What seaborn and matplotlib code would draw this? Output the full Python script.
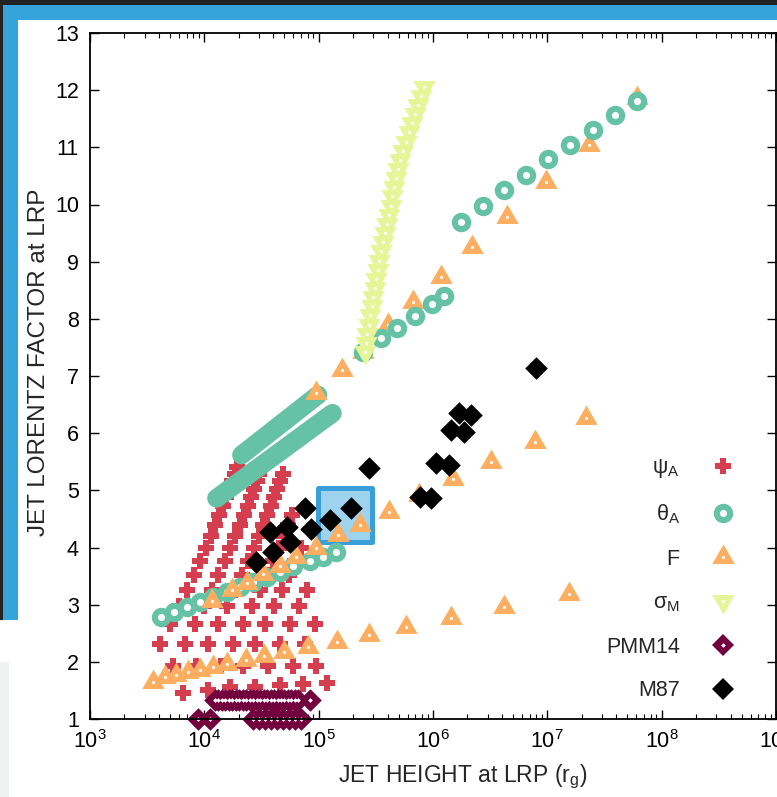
import matplotlib
matplotlib.use("Agg")
import matplotlib.pyplot as plt
import seaborn as sns
import numpy as np
import pandas as pd
from matplotlib.lines import Line2D
from matplotlib.legend_handler import HandlerTuple
from matplotlib.patches import Rectangle
from matplotlib.path import Path
from matplotlib.ticker import FixedLocator, NullFormatter, NullLocator, LogFormatterSciNotation

# ---------------- data ----------------
# psi_A (red crosses), one list per model track
psi_x = [
    [4087, 5027, 6012, 7021, 8072, 9163, 10265, 11373, 12466, 13509, 14506, 15549, 16514, 17540, 18430, 19380],
    [5307, 6729, 8277, 9900, 11558, 13280, 15077, 16900, 18730, 20500, 22240, 23890, 25580, 27200, 28860, 30350, 31910],
    [6490, 8497, 10772, 13253, 15849, 18503, 21260, 24130, 27060, 29980, 32820, 35610, 38230, 40950, 43490, 46190, 48580],
    [10729, 14047, 17810, 21910, 26200, 30590, 35140, 39890, 44740, 49570, 54270, 58880],
    [16700, 21870, 27720, 34100, 40790, 47610, 54710, 62090, 69640],
    [27610, 36150, 45830, 56370, 67440, 78720],
    [45650, 59770, 75760, 93200],
    [72480, 94950],
    [117450],
]
psi_y = [
    [2.313, 2.662, 2.977, 3.257, 3.519, 3.764, 3.992, 4.202, 4.394, 4.569, 4.726, 4.884, 5.024, 5.164, 5.286, 5.409],
    [1.928, 2.313, 2.662, 2.977, 3.257, 3.519, 3.764, 3.992, 4.202, 4.394, 4.569, 4.726, 4.884, 5.024, 5.164, 5.286, 5.409],
    [1.455, 1.928, 2.313, 2.662, 2.977, 3.257, 3.519, 3.764, 3.992, 4.202, 4.394, 4.569, 4.726, 4.884, 5.024, 5.164, 5.286],
    [1.508, 1.928, 2.313, 2.662, 2.977, 3.257, 3.519, 3.764, 3.992, 4.202, 4.394, 4.569],
    [1.56, 1.928, 2.313, 2.662, 2.977, 3.257, 3.519, 3.764, 3.992],
    [1.56, 1.928, 2.313, 2.662, 2.977, 3.257],
    [1.595, 1.928, 2.313, 2.662],
    [1.613, 1.928],
    [1.63],
]

# theta_A (teal open circles)
theta_low_x = [4169, 5415, 7035, 9140, 11986, 15725, 20420, 26790, 35150, 45640, 59880, 83440, 109000, 142800]
theta_low_y = [2.785, 2.878, 2.965, 3.053, 3.135, 3.222, 3.31, 3.397, 3.485, 3.572, 3.668, 3.764, 3.84, 3.927]
theta_up_x = [243800, 352800, 482800, 689000, 976100, 1.26e6, 1.763e6, 2.723e6, 4.21e6, 6.516e6,
              1.02e7, 1.588e7, 2.487e7, 3.926e7, 6.145e7]
theta_up_y = [7.425, 7.66, 7.845, 8.05, 8.254, 8.40, 9.70, 9.979, 10.254, 10.516,
              10.791, 11.041, 11.303, 11.566, 11.816]
# densely sampled theta_A tracks (drawn as thick bands)
theta_band1_x = [12785, 41030, 131800]
theta_band1_y = [4.861, 5.604, 6.348]
theta_band2_x = [21130, 45640, 98600]
theta_band2_y = [5.618, 6.143, 6.668]

# F (orange triangles)
F_x = [3530, 4520, 5640, 7220, 9140, 11940, 15820, 23040, 33080, 49460, 80640, 144500, 273400,
       583400, 1.442e6, 4.21e6, 1.556e7,
       11560, 17290, 23500, 32620, 45920, 63880, 95500, 147500, 228000, 411200, 751600, 1.489e6,
       3.22e6, 7.81e6, 2.178e7,
       95500, 158800, 243800, 402900, 666200, 1.179e6, 2.2e6, 4.446e6, 9.74e6, 2.295e7, 6.145e7]
F_y = [1.653, 1.741, 1.77, 1.828, 1.858, 1.905, 1.963, 2.033, 2.103, 2.167, 2.265, 2.353, 2.47,
       2.615, 2.773, 2.965, 3.182,
       3.056, 3.252, 3.38, 3.537, 3.672, 3.826, 4.0, 4.219, 4.394, 4.627, 4.919, 5.193,
       5.501, 5.851, 6.26,
       6.703, 7.105, 7.425, 7.892, 8.30, 8.737, 9.262, 9.787, 10.399, 11.041, 11.858]

# sigma_M (yellow-green down triangles)
sig_x = [2.52e5, 2.59e5, 2.67e5, 2.75e5, 2.83e5, 2.92e5, 3.00e5, 3.09e5, 3.19e5, 3.28e5,
         3.38e5, 3.52e5, 3.65e5, 3.79e5, 3.94e5, 4.10e5, 4.25e5, 4.41e5, 4.58e5, 4.76e5,
         4.95e5, 5.16e5, 5.48e5, 5.83e5, 6.20e5, 6.60e5, 7.00e5, 7.46e5, 7.92e5, 8.41e5]
sig_y = [7.42, 7.58, 7.74, 7.90, 8.06, 8.22, 8.38, 8.54, 8.70, 8.86,
         9.02, 9.18, 9.34, 9.50, 9.66, 9.82, 9.98, 10.14, 10.30, 10.46,
         10.62, 10.78, 10.94, 11.10, 11.26, 11.42, 11.58, 11.74, 11.90, 12.06]

# PMM14 (dark magenta open diamonds)
pmm_x = [12400, 13300, 14300, 15300, 16400, 17600, 18900, 20200, 21700, 23300, 25000, 26800,
         28700, 30800, 33000, 35400, 38000, 40700, 43700, 46800, 50200, 53800, 57700, 61900,
         66300, 83400,
         8830, 11170, 26500, 30000, 34000, 38500, 43500, 49000, 55500, 62500, 70500]
pmm_y = [1.33] * 26 + [1.0] * 11

# M87 (black filled diamonds)
m87_x = [28570, 39890, 37340, 55800, 52540, 85130, 75450, 124800, 193100, 273400, 762300,
         964500, 1.066e6, 1.374e6, 1.442e6, 1.884e6, 1.680e6, 2.156e6, 7.966e6]
m87_y = [3.752, 3.922, 4.277, 4.102, 4.359, 4.324, 4.686, 4.482, 4.686, 5.386, 4.889,
         4.861, 5.473, 5.444, 6.056, 6.026, 6.348, 6.318, 7.135]

# highlighted region (blue square)
box_x = [1.69e5]
box_y = [4.57]

x_ticks = [1e3, 1e4, 1e5, 1e6, 1e7, 1e8, 1e9]
y_ticks = list(range(1, 14))
labels = ["ψ$_\\mathregular{A}$", "θ$_\\mathregular{A}$", "F", "σ$_\\mathregular{M}$", "PMM14", "M87"]
xlabel = "JET HEIGHT at LRP (r$_\\mathregular{g}$)"
ylabel = "JET LORENTZ FACTOR at LRP"

# ---------------- style ----------------
RED = "#d53e4f"
TEAL = "#66c2a5"
ORANGE = "#fdae61"
YELLOW = "#e6f598"
PURPLE = "#72003f"
BLUE_E = "#3a9fd8"
BLUE_F = "#9ed3ee"

sns.set_theme(style="ticks")
plt.rcParams["font.family"] = ["Liberation Sans", "DejaVu Sans"]
plt.rcParams["mathtext.fontset"] = "custom"
plt.rcParams["mathtext.rm"] = "Liberation Sans"
plt.rcParams["mathtext.it"] = "Liberation Sans:italic"
plt.rcParams["mathtext.default"] = "regular"

W, H = 777, 797
fig = plt.figure(figsize=(W / 100, H / 100), dpi=100)
fig.patch.set_facecolor("white")

# screenshot frame decoration
def frect(x0, y0, x1, y1, color):
    fig.add_artist(Rectangle((x0 / W, 1 - y1 / H), (x1 - x0) / W, (y1 - y0) / H,
                             transform=fig.transFigure, facecolor=color, edgecolor="none", zorder=-5))

frect(0, 0, W, 5, "#232323")
frect(0, 5, W, 20, "#34a4da")
frect(0, 5, 3, 620, "#232323")
frect(3, 5, 18, 620, "#34a4da")
frect(0, 662, 9, H, "#eef0f2")

AX_L, AX_R, AX_T, AX_B = 90, 776, 33, 719
ax = fig.add_axes([AX_L / W, 1 - AX_B / H, (AX_R - AX_L) / W, (AX_B - AX_T) / H])
ax.set_facecolor("white")

# custom triangle markers centred on their centroid
tri_up = Path([(0, 12.67), (-11, -6.33), (11, -6.33), (0, 12.67)], closed=True)
tri_dn = Path([(0, -12.67), (-11, 6.33), (11, 6.33), (0, -12.67)], closed=True)
MS_TRI = 18.6
MS_D = 11.5
MS_P = 11.5

# blue square
sns.scatterplot(x=box_x, y=box_y, marker="s", s=38.5 ** 2, color=BLUE_F, edgecolor=BLUE_E,
                linewidth=3.6, ax=ax, zorder=2.5, legend=False)

# psi_A crosses
for xs, ys in zip(psi_x, psi_y):
    sns.scatterplot(x=xs, y=ys, marker="P", s=MS_P ** 2, color=RED, linewidth=0, ax=ax,
                    zorder=2, legend=False)

# theta_A bands + lower track
for bx, by in [(theta_band1_x, theta_band1_y), (theta_band2_x, theta_band2_y)]:
    sns.lineplot(x=bx, y=by, color=TEAL, linewidth=13.5, solid_capstyle="round", sort=False,
                 estimator=None, ax=ax, zorder=3, legend=False)
sns.scatterplot(x=theta_low_x, y=theta_low_y, marker="o", s=9.6 ** 2, color="white",
                edgecolor=TEAL, linewidth=4.4, ax=ax, zorder=3, legend=False)

# F triangles
sns.scatterplot(x=F_x, y=F_y, marker=tri_up, s=MS_TRI ** 2, color=ORANGE, linewidth=0, ax=ax,
                zorder=4, legend=False)
sns.scatterplot(x=F_x, y=F_y, marker="o", s=2.3 ** 2, color="white", linewidth=0, ax=ax,
                zorder=4.1, legend=False)

# theta_A upper track
sns.scatterplot(x=theta_up_x, y=theta_up_y, marker="o", s=9.6 ** 2, color="white",
                edgecolor=TEAL, linewidth=4.4, ax=ax, zorder=5, legend=False)

# sigma_M
sns.scatterplot(x=sig_x, y=sig_y, marker=tri_dn, s=MS_TRI ** 2, color=YELLOW, linewidth=0, ax=ax,
                zorder=6, legend=False)
sns.scatterplot(x=sig_x, y=sig_y, marker="o", s=2.3 ** 2, color="white", linewidth=0, ax=ax,
                zorder=6.1, legend=False)

# PMM14
sns.scatterplot(x=pmm_x, y=pmm_y, marker="D", s=MS_D ** 2, color=PURPLE, linewidth=0, ax=ax,
                zorder=6, legend=False, clip_on=False)
sns.scatterplot(x=pmm_x, y=pmm_y, marker="D", s=2.4 ** 2, color="white", linewidth=0, ax=ax,
                zorder=6.1, legend=False, clip_on=False)

# M87
sns.scatterplot(x=m87_x, y=m87_y, marker="D", s=MS_D ** 2, color="black", linewidth=0, ax=ax,
                zorder=7, legend=False)

# ---------------- axes ----------------
ax.set_xscale("log")
ax.set_xlim(1e3, 1e9)
ax.set_ylim(1, 13)
minor = [m * d for d in x_ticks[:-1] for m in range(2, 10)]
ax.xaxis.set_major_locator(FixedLocator(x_ticks))
ax.xaxis.set_major_formatter(LogFormatterSciNotation())
ax.xaxis.set_minor_locator(FixedLocator(minor))
ax.xaxis.set_minor_formatter(NullFormatter())
ax.yaxis.set_major_locator(FixedLocator(y_ticks))
ax.yaxis.set_minor_locator(NullLocator())
ax.tick_params(axis="both", which="both", direction="in", top=True, right=True,
               colors="black", labelsize=15.5)
ax.tick_params(axis="both", which="major", length=6.5, width=1.0, pad=8)
ax.tick_params(axis="x", which="minor", length=3.5, width=0.8)
for sp in ax.spines.values():
    sp.set_linewidth(1.3)
    sp.set_color("black")
    sp.set_zorder(10)

ax.set_xlabel(xlabel, fontsize=16.5)
ax.set_ylabel(ylabel, fontsize=17.5)
ax.xaxis.set_label_coords((463 - AX_L) / (AX_R - AX_L), (AX_B - 763) / (AX_B - AX_T))
ax.yaxis.set_label_coords((50 - AX_L) / (AX_R - AX_L), (AX_B - 362) / (AX_B - AX_T))

# ---------------- legend ----------------
h_psi = Line2D([], [], ls="none", marker="P", ms=MS_P, color=RED, mew=0)
h_theta = Line2D([], [], ls="none", marker="o", ms=9.6, mfc="white", mec=TEAL, mew=4.4)
dot = Line2D([], [], ls="none", marker="o", ms=2.3, color="white", mew=0)
h_F = (Line2D([], [], ls="none", marker=tri_up, ms=MS_TRI, color=ORANGE, mew=0), dot)
h_sig = (Line2D([], [], ls="none", marker=tri_dn, ms=MS_TRI, color=YELLOW, mew=0), dot)
h_pmm = (Line2D([], [], ls="none", marker="D", ms=MS_D, color=PURPLE, mew=0),
         Line2D([], [], ls="none", marker="D", ms=2.4, color="white", mew=0))
h_m87 = Line2D([], [], ls="none", marker="D", ms=MS_D, color="black", mew=0)

leg = ax.legend([h_psi, h_theta, h_F, h_sig, h_pmm, h_m87], labels,
                handler_map={tuple: HandlerTuple(ndivide=1)}, markerfirst=False, frameon=False,
                loc="lower right", bbox_to_anchor=(0.946, 0.0256), fontsize=15.5,
                labelspacing=1.05, handlelength=1.5, handletextpad=1.25, borderpad=0,
                borderaxespad=0)
leg.set_zorder(12)

fig.savefig("out.png", dpi=100)
